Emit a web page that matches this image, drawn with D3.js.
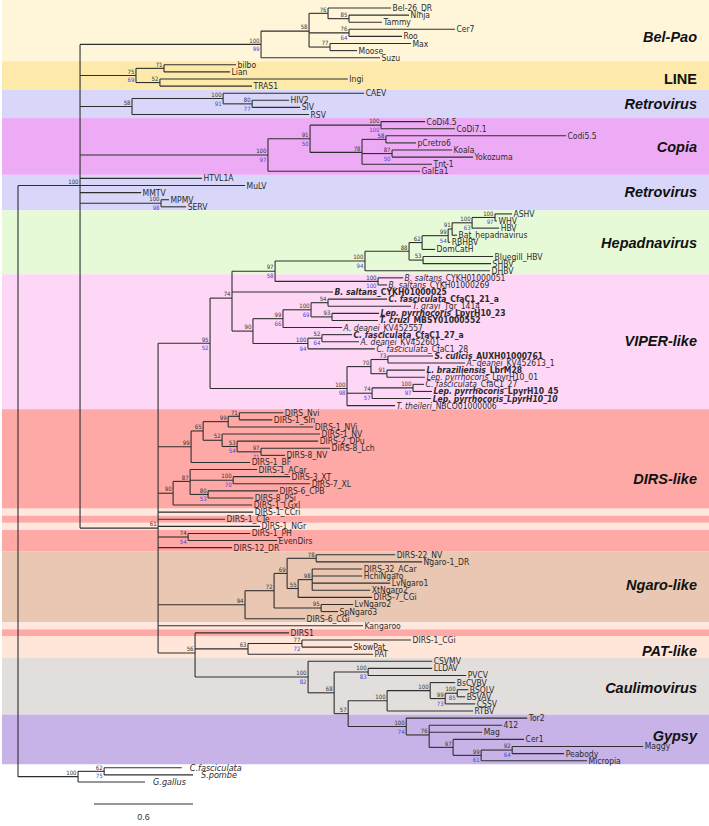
<!DOCTYPE html>
<html>
<head>
<meta charset="utf-8">
<script src="https://cdn.jsdelivr.net/npm/d3@7"></script>
<style>
  html, body { margin: 0; padding: 0; background: #fff; }
  svg { display: block; }
  .leaf { font-family: "Liberation Sans Narrow", "DejaVu Sans Condensed", "Liberation Sans", sans-serif; font-size: 8.5px; fill: #2b2b2b; }
  .sup { font-family: "Liberation Sans Narrow", "DejaVu Sans Condensed", "Liberation Sans", sans-serif; font-size: 6px; }
  .clade { font-family: "Liberation Sans", Arial, sans-serif; font-size: 14.5px; font-weight: bold; fill: #111; }
</style>
</head>
<body>
<div id="chart"></div>
<script>
// ---------------- DATA ----------------
// Clades as Newick pieces (branch lengths in substitutions/site; internal names = support "top/bottom")
const belPao = "(((Bel-26_DR:0.382,(Ninja:0.364,Tammy:0.200)85:0.127)76:0.115,(Cer7:0.642,Roo:0.321)76/64:0.242,(Max:0.491,Moose:0.164)77:0.127)58:0.291,Suzu:0.721)100/99:1.097";
const lineClade = "((bilbo:0.436,Lian:0.400)71:0.170,(Ingi:1.139,TRAS1:0.558)52:0.145)75/69:0.339";
const retro1 = "((CAEV:0.855,(HIV2:0.224,SIV:0.291)80/77:0.176)100/91:0.552,RSV:1.073)58:0.315";
const copia = "(((CoDi4.5:0.267,CoDi7.1:0.448)100/100:0.430,((Codi5.5:1.091,pCretro6:0.182)58:0.145,(Koala:0.364,Yokozuma:0.491)87/50:0.182,Tnt-1:0.424)78:0.315)91/50:0.255,GalEa1:0.921)100/97:1.139";
const retro2 = "HTVL1A:0.739,MuLV:1.000,MMTV:0.370,(MPMV:0.048,SERV:0.152)100/98:0.491";
const hepadna = "(((((((ASHV:0.103,WHV:0.012)100/97:0.139,HBV:0.164)100/63:0.121,Bat_hepadnavirus:0.030)91:0.024,RBHBV:0.012)99/54:0.158,DomCatH:0.079)62:0.079,(Bluegill_HBV:0.424,SHBV:0.412)53:0.085)88:0.267,DHBV:0.758)100/94:0.545";
const bSaltans = "(B. saltans_CYKH01000051:0.152,B. saltans_CYKH01000269:0.055)100/100:0.624";
const viperA = "((((C. fasciculata_CfaC1_21_a:0.358,T. grayi_Tgr_1414:0.503)54:0.103,(Lep. pyrrhocoris_LpyrH10_23:0.285,T. cruzi_MBSY01000552:0.279)93:0.127)100/69:0.170,A. deanei_KV452557:0.358)99/66:0.182,((C. fasciculata_CfaC1_27_a:0.182,A. deanei_KV452601:0.224)52/64:0.085,C. fasciculata_CfaC1_28:0.406)100/94:0.333)90:0.127";
const viperB = "(((S. culicis_AUXH01000761:0.273,A. deanei_KV452613_1:0.467)73:0.103,(L. braziliensis_LbrM28:0.230,Lep. pyrrhocoris_LpyrH10_01:0.230)91:0.097)70:0.145,((C. fasciculata_CfaC1_27:0.067,Lep. pyrrhocoris_LpyrH10_45:0.115)100/97:0.248,Lep. pyrrhocoris_LpyrH10_10:0.358)74/57:0.152,T. theileri_NBCO01000006:0.291)100/98:0.830";
const dirsA = "((((DIRS_Nvi:0.267,DIRS-1_SIn:0.200)71:0.067,DIRS-1_NVi:0.515)99:0.152,(DIRS-1_NV:0.594,(DIRS-2_DPu:0.491,(DIRS-8_Lch:0.418,DIRS-8_NV:0.145)97/71:0.145)53/54:0.091)52:0.115)65:0.073,DIRS-1_BF:0.358)99:0.200";
const dirsB = "((DIRS-1_ACar:0.406,(DIRS-3_XT:0.345,DIRS-7_XL:0.467)100/70:0.261,(DIRS-6_CPB:0.424,DIRS-8_PSi:0.273)80/53:0.109)87:0.103,DIRS-1_LGxI:0.479)90:0.091";
const dirsSingles = "DIRS-1_CCri:0.576,DIRS-1_CTe:0.406,DIRS-1_NGr:0.618,(DIRS-1_PH:0.376,EvenDirs:0.539)74/54:0.182,DIRS-12_DR:0.448";
const ngaro = "((((DIRS-22_NV:0.479,Ngaro-1_DR:0.642)78:0.176,((DIRS-32_ACar:0.303,HchiNgaro:0.303,LvNgaro1:0.473,XtNgaro2:0.352)98:0.085,DIRS-7_CGi:0.448)55:0.067)69:0.079,(LvNgaro2:0.194,SpNgaro3:0.103)95:0.285)72:0.176,DIRS-6_CGi:0.364)94:0.527";
const patCauliGypsy = "(DIRS1:0.570,((DIRS-1_CGi:0.661,SkowPat:0.303)77/72:0.327,PAT:0.758)63:0.321,(CSVMV:0.752,((LLDAV:0.388,PVCV:0.594)100/83:0.206,(((BsCVBV:0.152,((BSOLV:0.067,BSVAV:0.048)100/85:0.073,CSSV:0.182)99/73:0.091)100:0.261,RTBV:0.521)100:0.236,(Tor2:0.733,(412:0.442,Mag:0.321,(Cer1:0.430,((Maggy:0.794,Peabody:0.315)92/64:0.188,Micropia:0.642)99/61:0.170)97:0.145)76:0.139)100/74:0.352)57:0.085)68:0.158)100/82:0.685)56:0.224";
const outgroup = "((C.fasciculata:0.471,S.pombe:0.539)62/75:0.158,G.gallus:0.406)100:0.364";

const node74 = "((" + hepadna + "," + bSaltans + ")97/58:0.261,B. saltans_CYKH01000025:0.612," + viperA + ")74:0.133";
const node61 = "((" + node74 + "," + viperB + ")95/52:0.315," + dirsA + "," + dirsB + "," + dirsSingles + "," + ngaro + ",Kangaroo:1.242," + patCauliGypsy + ")61:0.473";
const ingroup = "(" + belPao + "," + lineClade + "," + retro1 + "," + copia + "," + retro2 + "," + node61 + ")100:0.376";
const treeNewick = "(" + ingroup + "," + outgroup + ");";

const boldLeaves = ["B. saltans_CYKH01000025","C. fasciculata_CfaC1_21_a","Lep. pyrrhocoris_LpyrH10_23","T. cruzi_MBSY01000552","C. fasciculata_CfaC1_27_a","S. culicis_AUXH01000761","L. braziliensis_LbrM28","Lep. pyrrhocoris_LpyrH10_45","Lep. pyrrhocoris_LpyrH10_10"];
const fullItalicLeaves = ["Lep. pyrrhocoris_LpyrH10_10","C.fasciculata","S.pombe","G.gallus"];

// Background bands (leaf index ranges)
const bandFrom  = [0, 8, 12, 16, 24, 29, 38, 57, 71, 72, 73, 74, 77, 87, 88, 89, 92, 100];
const bandTo    = [7, 11, 15, 23, 28, 37, 56, 70, 71, 72, 73, 76, 86, 87, 88, 91, 99, 106];
const bandColor = ["#FFF6DA","#FDEAAB","#D8D7FA","#EEABF5","#D8D7FA","#E7FAD8","#FDD7F5","#FFA9A6","#FFE7DD","#FFA9A6","#FFE7DD","#FFA9A6","#E9C7B2","#FFE7DD","#FFA9A6","#FFE6D8","#E2DEDC","#C7B3E7"];

// Clade labels (anchor as fractional leaf index)
const cladeNames  = ["Bel-Pao","LINE","Retrovirus","Copia","Retrovirus","Hepadnavirus","VIPER-like","DIRS-like","Ngaro-like","PAT-like","Caulimovirus","Gypsy"];
const cladeAnchor = [4.1, 10.0, 13.5, 19.6, 25.9, 33.1, 46.9, 66.3, 81.3, 90.6, 95.8, 102.5];
const cladeItalic = [true, false, true, true, true, true, true, true, true, true, true, true];

const scaleBarValue = 0.6;

// ---------------- PARSER ----------------
function parseNewick(s) {
  let i = 0;
  function node() {
    const n = {};
    if (s[i] === "(") {
      i++;
      n.children = [node()];
      while (s[i] === ",") { i++; n.children.push(node()); }
      i++; // ')'
    }
    let name = "";
    while (i < s.length && !":,();".includes(s[i])) name += s[i++];
    n.name = name.trim();
    n.length = 0;
    if (s[i] === ":") {
      i++;
      let num = "";
      while (i < s.length && !",();".includes(s[i])) num += s[i++];
      n.length = parseFloat(num);
    }
    return n;
  }
  return node();
}

// ---------------- LAYOUT ----------------
const W = 709, H = 826;
const root = d3.hierarchy(parseNewick(treeNewick));
const leaves = root.leaves();
const yScale = d3.scaleLinear().domain([0, leaves.length - 1]).range([8, 782]);
const xScale = d3.scaleLinear().domain([0, 1]).range([18, 183]);

root.eachBefore(d => { d.dist = d.parent ? d.parent.dist + d.data.length : 0; d.px = xScale(d.dist); });
leaves.forEach((d, i) => { d.py = yScale(i); d.idx = i; });
root.eachAfter(d => { if (d.children) d.py = d3.mean(d.children, c => c.py); });

const svg = d3.select("#chart").append("svg").attr("width", W).attr("height", H);

// bands
const bandTop = i => i === 0 ? 0 : (yScale(i - 1) + yScale(i)) / 2;
const bandBot = i => (yScale(i) + yScale(i + 1)) / 2;
svg.append("g").selectAll("rect").data(bandFrom.map((f, k) => ({f, t: bandTo[k], c: bandColor[k]})))
  .join("rect")
  .attr("x", 2).attr("width", W - 2)
  .attr("y", d => bandTop(d.f)).attr("height", d => bandBot(d.t) - bandTop(d.f))
  .attr("fill", d => d.c);

// clade labels
svg.append("g").selectAll("text").data(cladeNames.map((n, k) => ({n, a: cladeAnchor[k], it: cladeItalic[k]})))
  .join("text").attr("class", "clade")
  .attr("x", 697).attr("y", d => yScale(d.a))
  .attr("text-anchor", "end").attr("dominant-baseline", "central")
  .attr("font-style", d => d.it ? "italic" : "normal")
  .text(d => d.n);

// branches
const gTree = svg.append("g").attr("stroke", "#2e2e2e").attr("stroke-width", 1.1).attr("fill", "none");
const nodes = root.descendants();
gTree.selectAll("line.h").data(nodes.filter(d => d.parent)).join("line").attr("class", "h")
  .attr("x1", d => d.parent.px).attr("x2", d => d.px)
  .attr("y1", d => d.py).attr("y2", d => d.py);
gTree.selectAll("line.v").data(nodes.filter(d => d.children)).join("line").attr("class", "v")
  .attr("x1", d => d.px).attr("x2", d => d.px)
  .attr("y1", d => d3.min(d.children, c => c.py)).attr("y2", d => d3.max(d.children, c => c.py));

// support values
const internals = nodes.filter(d => d.children && d.parent && d.data.name);
const gSup = svg.append("g").attr("class", "sup");
internals.forEach(d => {
  const parts = d.data.name.split("/");
  gSup.append("text").attr("x", d.px - 1.5).attr("y", d.py - 1.8).attr("text-anchor", "end")
    .attr("fill", "#333").text(parts[0]);
  if (parts[1]) gSup.append("text").attr("x", d.px - 1.5).attr("y", d.py + 7).attr("text-anchor", "end")
    .attr("fill", "#4646d8").text(parts[1]);
});

// leaf labels
const gLeaf = svg.append("g");
leaves.forEach(d => {
  const name = d.data.name;
  const isOut = d.idx >= leaves.length - 3;
  const t = gLeaf.append("text").attr("class", "leaf")
    .attr("x", d.px + (isOut ? 8 : 1.5)).attr("y", d.py)
    .attr("dominant-baseline", "central");
  if (boldLeaves.includes(name)) t.attr("font-weight", "bold");
  if (isOut) t.style("font-size", "9px");
  if (fullItalicLeaves.includes(name)) { t.attr("font-style", "italic").text(name); return; }
  const m = name.match(/^([A-Z][a-z]*\. [a-z]+)(_.*)$/);
  if (m) {
    t.append("tspan").attr("font-style", "italic").text(m[1]);
    t.append("tspan").text(m[2]);
  } else t.text(name);
});

// scale bar
const sbLen = xScale(scaleBarValue) - xScale(0);
const sb = svg.append("g").attr("transform", "translate(94,804)");
sb.append("line").attr("x1", 0).attr("x2", sbLen).attr("stroke", "#2e2e2e").attr("stroke-width", 1.1);
sb.append("text").attr("x", sbLen / 2).attr("y", 16).attr("text-anchor", "middle")
  .attr("font-family", "Liberation Sans, sans-serif").attr("font-size", 9).attr("fill", "#333").text(scaleBarValue);
</script>
</body>
</html>
